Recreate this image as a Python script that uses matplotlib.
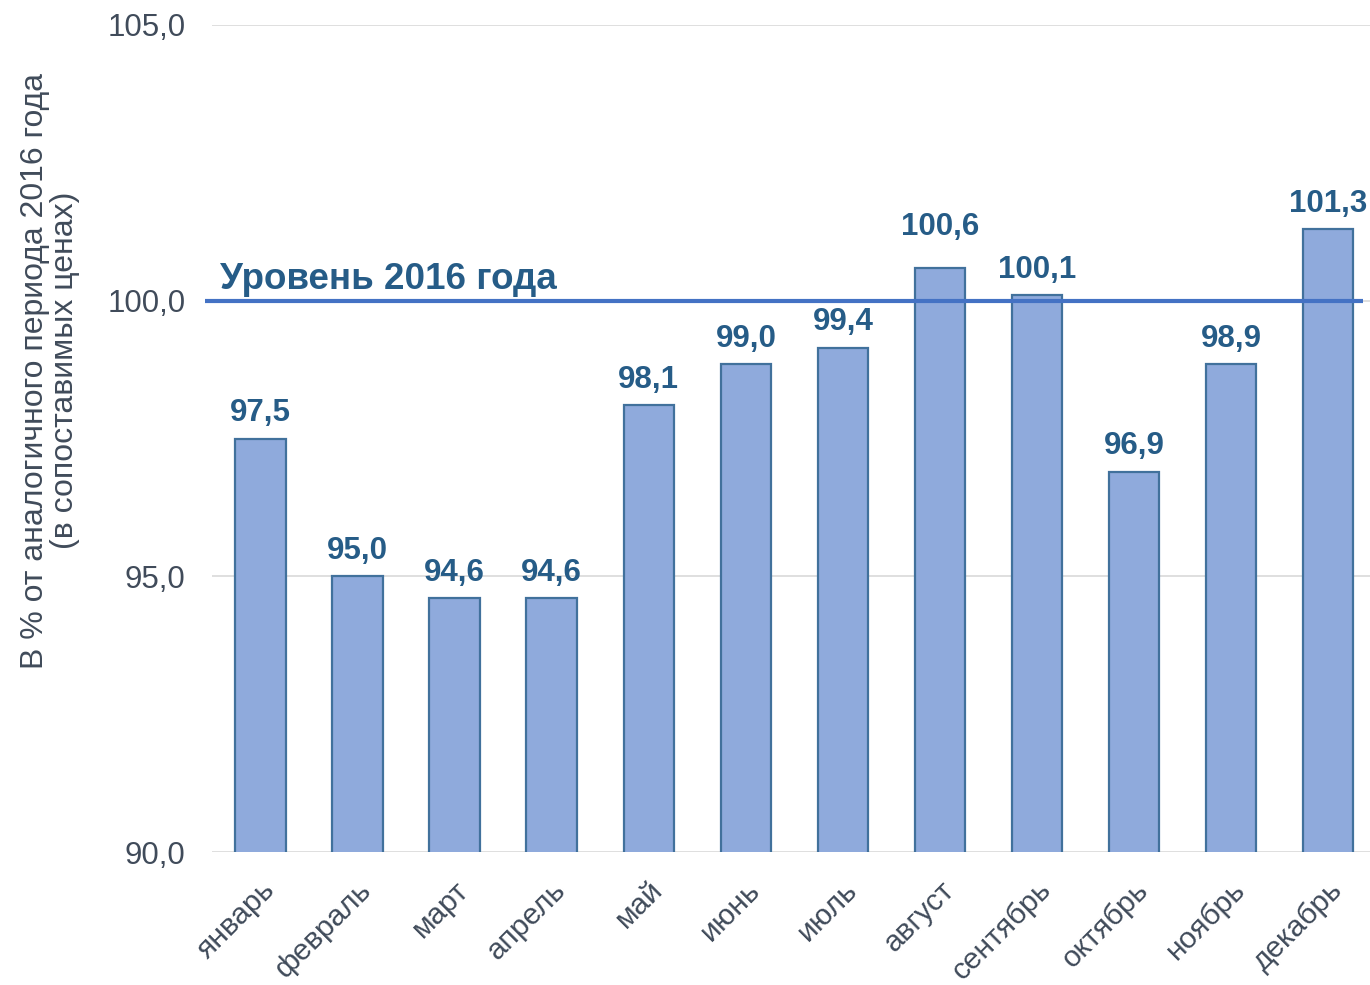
import matplotlib
matplotlib.use("Agg")
import matplotlib.pyplot as plt

# data
months = ["январь", "февраль", "март", "апрель", "май", "июнь",
          "июль", "август", "сентябрь", "октябрь", "ноябрь", "декабрь"]
# bar heights as drawn in the picture
heights = [97.5, 95.0, 94.6, 94.6, 98.1, 98.85, 99.15, 100.6, 100.1, 96.9, 98.85, 101.3]
# data labels as printed above the bars
value_labels = ["97,5", "95,0", "94,6", "94,6", "98,1", "99,0",
                "99,4", "100,6", "100,1", "96,9", "98,9", "101,3"]
y_ticks = [90.0, 95.0, 100.0, 105.0]
base_level = 100.0
base_label = "Уровень 2016 года"
y_label = "В % от аналогичного периода 2016 года\n(в сопоставимых ценах)"

plt.rcParams['font.family'] = ['Liberation Sans', 'DejaVu Sans']

fig = plt.figure(figsize=(13.7, 9.85), dpi=100)
ax = fig.add_axes([212 / 1370, 1 - 852 / 985, 1 - 212 / 1370, (852 - 25) / 985])

x = list(range(len(months)))
ax.bar(x, heights, width=0.52, color="#8FAADC", edgecolor="#41719C",
       linewidth=1.6, zorder=2)

for xi, h, lab in zip(x, heights, value_labels):
    dy = 7.5
    if xi == 7:
        dy += 11  # august label lifted off the level line
    ax.annotate(lab, (xi, h), xytext=(0, dy),
                textcoords="offset points", ha="center", va="bottom",
                fontsize=22.5, fontweight="bold", color="#265C87")

# 2016 level line
ax.plot([-0.57, 11.36], [base_level, base_level], color="#4472C4",
        linewidth=3, zorder=3, clip_on=False, solid_capstyle="butt")
ax.annotate(base_label, (-0.42, base_level), xytext=(0, 3),
            textcoords="offset points", ha="left", va="bottom",
            fontsize=26.5, fontweight="bold", color="#265C87")

ax.set_xlim(-0.5, 11.43)
ax.set_ylim(90, 105)
ax.set_yticks(y_ticks)
ax.set_yticklabels([("%.1f" % t).replace(".", ",") for t in y_ticks])
ax.set_xticks(x)
ax.set_xticklabels(months, rotation=45, ha="right", rotation_mode="anchor",
                   fontsize=21.5)

ax.grid(axis="y", color="#D9D9D9", linewidth=1.2, zorder=0)
ax.set_axisbelow(True)
for s in ax.spines.values():
    s.set_visible(False)
ax.tick_params(axis="both", length=0, colors="#404B5A")
ax.tick_params(axis="y", pad=19, labelsize=22.5)
ax.tick_params(axis="x", pad=17)

ax.set_ylabel(y_label, fontsize=23, color="#404B5A", linespacing=1.0)
ax.yaxis.set_label_coords(-0.114, 0.582)

fig.savefig("out.png", dpi=100)
